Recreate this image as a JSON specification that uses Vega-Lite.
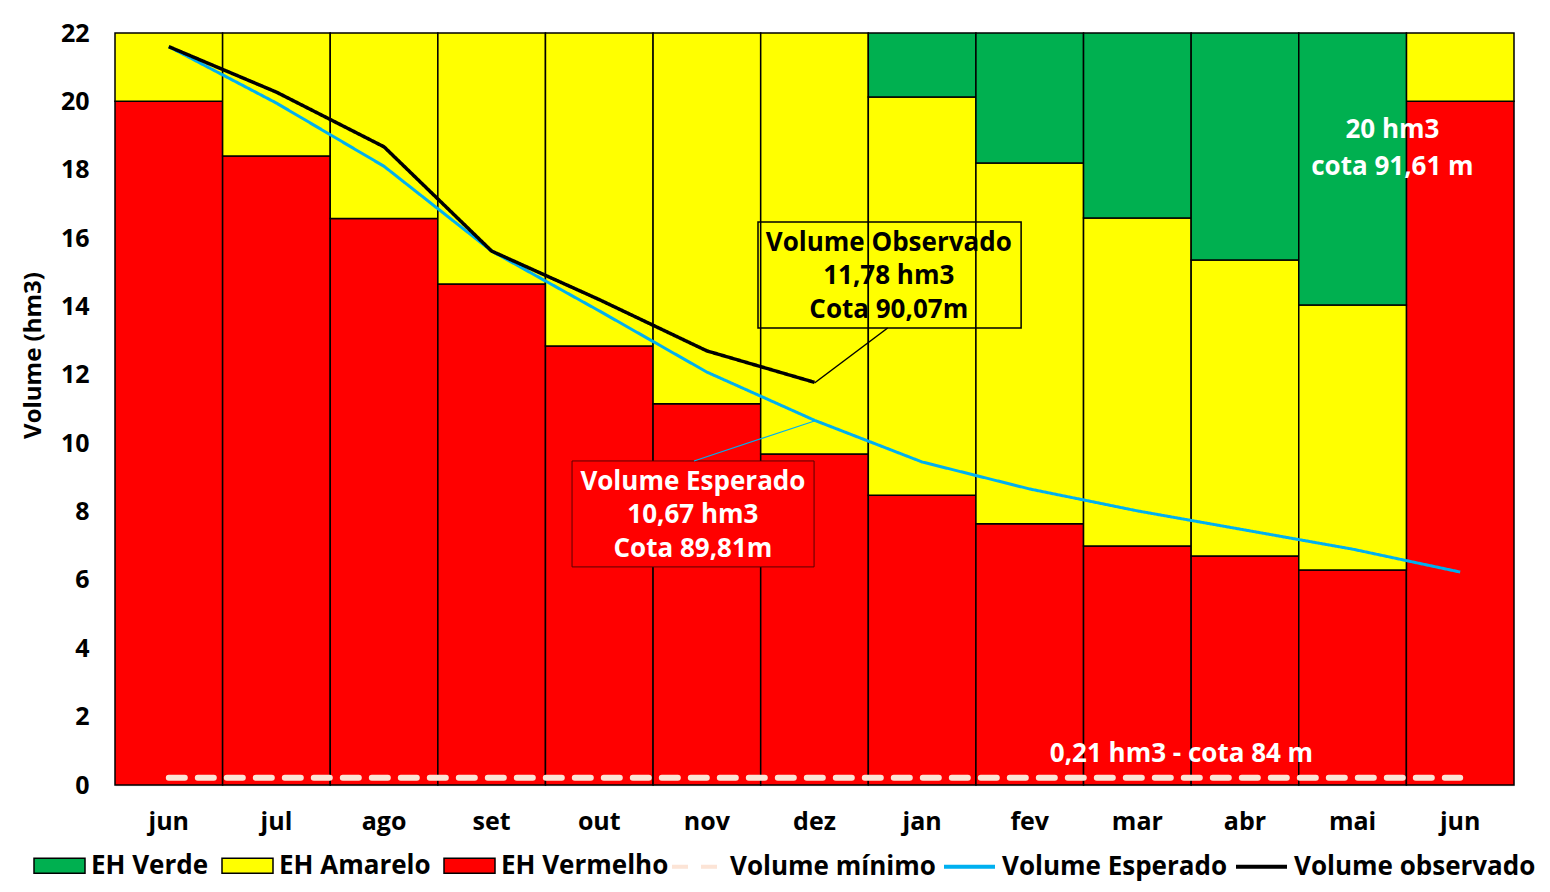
{
  "$schema": "https://vega.github.io/schema/vega-lite/v6.json",
  "width": 1399,
  "height": 752,
  "autosize": {"type": "none"},
  "padding": {"left": 115, "top": 33, "right": 36, "bottom": 107},
  "background": "white",
  "config": {"font": "Open Sans", "view": {"stroke": null}},
  "datasets": {
    "months": [
      {"m": "jun", "verm": 20, "amar": 22, "verd": null, "esp": 21.6, "obs": 21.6},
      {"m": "jul", "verm": 18.4, "amar": 22, "verd": null, "esp": 19.95, "obs": 20.27},
      {"m": "ago", "verm": 16.57, "amar": 22, "verd": null, "esp": 18.1, "obs": 18.67},
      {"m": "set", "verm": 14.66, "amar": 22, "verd": null, "esp": 15.62, "obs": 15.62},
      {"m": "out", "verm": 12.84, "amar": 22, "verd": null, "esp": 13.87, "obs": 14.2},
      {"m": "nov", "verm": 11.15, "amar": 22, "verd": null, "esp": 12.08, "obs": 12.7},
      {"m": "dez", "verm": 9.68, "amar": 22, "verd": null, "esp": 10.67, "obs": 11.78},
      {"m": "jan", "verm": 8.48, "amar": 20.13, "verd": 22, "esp": 9.45, "obs": null},
      {"m": "fev", "verm": 7.64, "amar": 18.2, "verd": 22, "esp": 8.66, "obs": null},
      {"m": "mar", "verm": 6.99, "amar": 16.59, "verd": 22, "esp": 8.02, "obs": null},
      {"m": "abr", "verm": 6.7, "amar": 15.36, "verd": 22, "esp": 7.46, "obs": null},
      {"m": "mai", "verm": 6.29, "amar": 14.04, "verd": 22, "esp": 6.9, "obs": null},
      {"m": "jun2", "verm": 20, "amar": 22, "verd": null, "esp": 6.23, "obs": null}
    ]
  },
  "layer": [
    {
      "data": {"name": "months"},
      "encoding": {
        "x": {
          "field": "m",
          "type": "nominal",
          "scale": {"domain": ["jun", "jul", "ago", "set", "out", "nov", "dez", "jan", "fev", "mar", "abr", "mai", "jun2"], "paddingInner": 0, "paddingOuter": 0},
          "axis": {
            "title": null,
            "labelAngle": 0,
            "labelFont": "Open Sans",
            "labelFontSize": 25,
            "labelFontWeight": "bold",
            "labelColor": "black",
            "ticks": false,
            "tickSize": 0,
            "labelPadding": 24,
            "domainColor": "#d9d9d9",
            "domainWidth": 1.5,
            "labelExpr": "datum.label == 'jun2' ? 'jun' : datum.label"
          }
        }
      },
      "layer": [
        {
          "mark": {"type": "bar", "stroke": "black", "strokeWidth": 1.5},
          "encoding": {
            "y": {
              "field": "verm",
              "type": "quantitative",
              "scale": {"domain": [0, 22], "nice": false, "zero": true},
              "axis": {
                "values": [0, 2, 4, 6, 8, 10, 12, 14, 16, 18, 20, 22],
                "grid": false,
                "domain": false,
                "ticks": false,
                "tickSize": 0,
                "labelPadding": 26,
                "labelFont": "Open Sans",
                "labelFontSize": 25,
                "labelFontWeight": "bold",
                "labelColor": "black",
                "title": "Volume (hm3)",
                "titleFont": "Open Sans",
                "titleFontSize": 24,
                "titleFontWeight": "bold",
                "titleColor": "black",
                "titleX": -82,
                "titleY": 322,
                "titleAngle": -90,
                "titleAlign": "center",
                "titleBaseline": "middle"
              }
            },
            "fill": {
              "datum": "EH Vermelho",
              "type": "nominal",
              "scale": {
                "domain": ["EH Verde", "EH Amarelo", "EH Vermelho"],
                "range": ["#00B050", "#FFFF00", "#FF0000"]
              },
              "legend": {
                "orient": "none",
                "legendX": -82,
                "legendY": 806,
                "direction": "horizontal",
                "columns": 3,
                "title": null,
                "labelFont": "Open Sans",
                "labelFontSize": 26,
                "labelFontWeight": "bold",
                "labelColor": "black",
                "labelLimit": 400,
                "labelOffset": 5,
                "columnPadding": 10,
                "symbolType": "M-1,-0.29H1V0.29H-1Z",
                "symbolSize": 2601,
                "symbolStrokeColor": "black",
                "symbolStrokeWidth": 1.5,
                "symbolOpacity": 1
              }
            }
          }
        },
        {
          "mark": {"type": "bar", "stroke": "black", "strokeWidth": 1.5},
          "encoding": {
            "y": {"field": "amar", "type": "quantitative"},
            "y2": {"field": "verm"},
            "fill": {"datum": "EH Amarelo", "type": "nominal"}
          }
        },
        {
          "mark": {"type": "bar", "stroke": "black", "strokeWidth": 1.5},
          "encoding": {
            "y": {"field": "verd", "type": "quantitative"},
            "y2": {"field": "amar"},
            "fill": {"datum": "EH Verde", "type": "nominal"}
          }
        },
        {
          "mark": {"type": "line", "strokeWidth": 6, "strokeCap": "round"},
          "encoding": {
            "y": {"datum": 0.21, "type": "quantitative"},
            "stroke": {
              "datum": "Volume mínimo",
              "type": "nominal",
              "scale": {
                "domain": ["Volume mínimo", "Volume Esperado", "Volume observado"],
                "range": ["#FCE4D6", "#00B0F0", "#000000"]
              },
              "legend": {
                "orient": "none",
                "legendX": 555,
                "legendY": 806,
                "direction": "horizontal",
                "columns": 3,
                "title": null,
                "labelFont": "Open Sans",
                "labelFontSize": 26,
                "labelFontWeight": "bold",
                "labelColor": "black",
                "labelLimit": 400,
                "labelOffset": 5,
                "columnPadding": 0,
                "symbolType": "stroke",
                "symbolSize": 2601,
                "symbolStrokeWidth": 4,
                "symbolOpacity": 1
              }
            },
            "strokeDash": {
              "datum": "Volume mínimo",
              "type": "nominal",
              "scale": {
                "domain": ["Volume mínimo", "Volume Esperado", "Volume observado"],
                "range": [[16, 13], [1, 0], [1, 0]]
              }
            }
          }
        },
        {
          "mark": {"type": "line", "strokeWidth": 3},
          "encoding": {
            "y": {"field": "esp", "type": "quantitative"},
            "stroke": {"datum": "Volume Esperado", "type": "nominal"},
            "strokeDash": {"datum": "Volume Esperado", "type": "nominal"}
          }
        },
        {
          "mark": {"type": "line", "strokeWidth": 3.5},
          "encoding": {
            "y": {"field": "obs", "type": "quantitative"},
            "stroke": {"datum": "Volume observado", "type": "nominal"},
            "strokeDash": {"datum": "Volume observado", "type": "nominal"}
          }
        }
      ]
    },
    {
      "encoding": {
        "x": {"field": "x", "type": "quantitative", "scale": {"domain": [0, 13], "nice": false, "zero": false}, "axis": null},
        "y": {"field": "y", "type": "quantitative"}
      },
      "layer": [
        {
          "data": {"values": [{"x": 5.975, "x2": 8.42, "y": 16.47, "y2": 13.37}]},
          "mark": {"type": "rect", "fill": null, "fillOpacity": 0, "stroke": "black", "strokeWidth": 1.5},
          "encoding": {"x2": {"field": "x2"}, "y2": {"field": "y2"}}
        },
        {
          "data": {"values": [{"x": 4.247, "x2": 6.496, "y": 9.48, "y2": 6.38}]},
          "mark": {"type": "rect", "fill": "#FF0000", "stroke": "#5a0000", "strokeWidth": 1},
          "encoding": {"x2": {"field": "x2"}, "y2": {"field": "y2"}}
        },
        {
          "data": {"values": [{"x": 6.5, "y": 11.76, "x2": 7.18, "y2": 13.37}]},
          "mark": {"type": "rule", "stroke": "black", "strokeWidth": 1.5},
          "encoding": {"x2": {"field": "x2"}, "y2": {"field": "y2"}}
        },
        {
          "data": {"values": [{"x": 5.38, "y": 9.48, "x2": 6.5, "y2": 10.65}]},
          "mark": {"type": "rule", "stroke": "#00B0F0", "strokeWidth": 1.2},
          "encoding": {"x2": {"field": "x2"}, "y2": {"field": "y2"}}
        },
        {
          "data": {"values": [
            {"x": 7.19, "y": 15.86, "t": "Volume Observado"},
            {"x": 7.19, "y": 14.89, "t": "11,78 hm3"},
            {"x": 7.19, "y": 13.9, "t": "Cota 90,07m"}
          ]},
          "mark": {"type": "text", "font": "Open Sans", "fontSize": 26, "fontWeight": "bold", "color": "black", "align": "center", "baseline": "middle"},
          "encoding": {"text": {"field": "t"}}
        },
        {
          "data": {"values": [
            {"x": 5.37, "y": 8.86, "t": "Volume Esperado"},
            {"x": 5.37, "y": 7.9, "t": "10,67 hm3"},
            {"x": 5.37, "y": 6.9, "t": "Cota 89,81m"},
            {"x": 11.87, "y": 19.16, "t": "20 hm3"},
            {"x": 11.87, "y": 18.08, "t": "cota 91,61 m"},
            {"x": 9.91, "y": 0.91, "t": "0,21 hm3 - cota 84 m"}
          ]},
          "mark": {"type": "text", "font": "Open Sans", "fontSize": 26, "fontWeight": "bold", "color": "white", "align": "center", "baseline": "middle"},
          "encoding": {"text": {"field": "t"}}
        }
      ]
    }
  ],
  "resolve": {"scale": {"x": "independent"}, "axis": {"x": "independent"}}
}
